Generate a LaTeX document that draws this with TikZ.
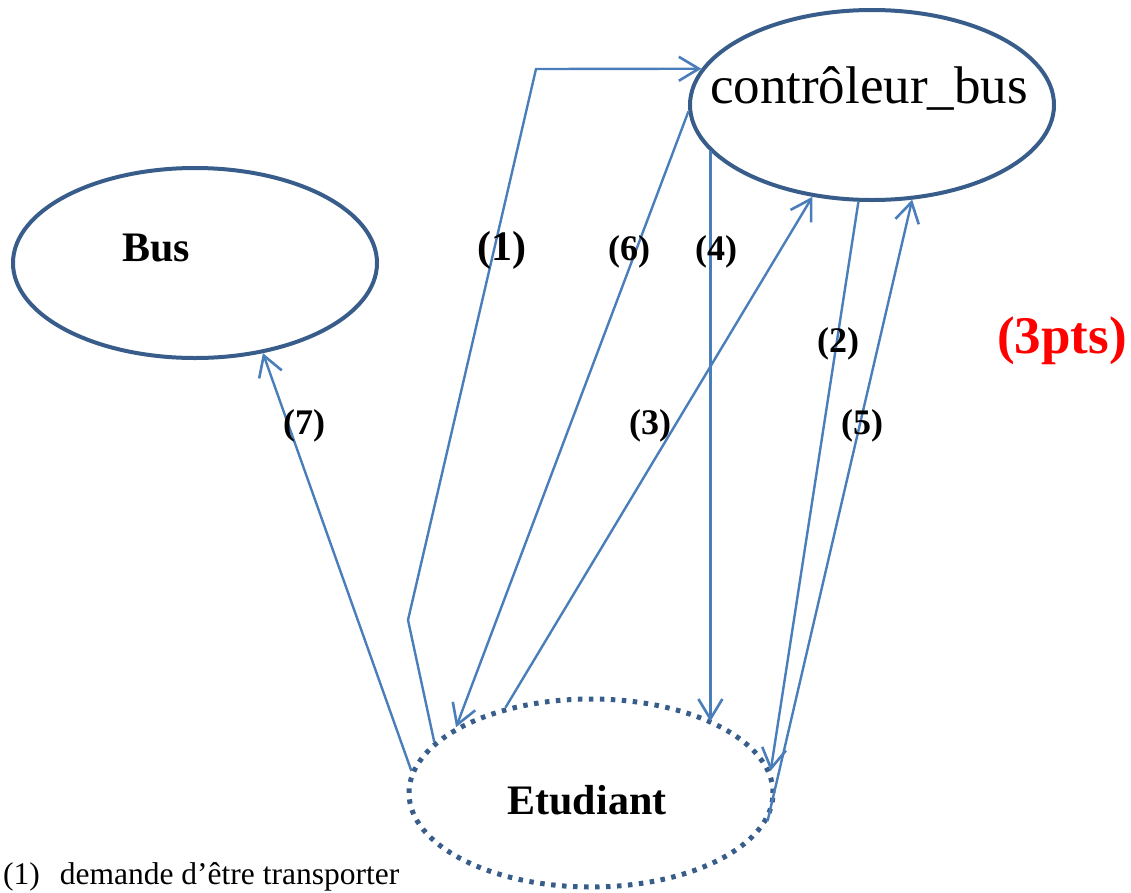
\documentclass[tikz,border=0pt]{standalone}
\usepackage{fontspec}
\setmainfont{Liberation Serif}
\usetikzlibrary{shapes.geometric,arrows.meta}
\definecolor{bord}{RGB}{56,93,138}
\definecolor{fleche}{RGB}{74,126,187}
\begin{document}
\begin{tikzpicture}[x=1pt,y=-1pt,
        acteur/.style={ellipse, draw=bord, line width=4pt, inner sep=0pt, minimum width=364pt, minimum height=190pt},
        msg/.style={draw=fleche, line width=2.4pt, -{Straight Barb[length=20pt,width=24pt,line width=2.6pt]}},
        num/.style={font=\fontsize{36}{40}\selectfont\bfseries}]
        \useasboundingbox (0,0) rectangle (1131,892);
        \node [acteur] (bus) at (195,263) {};
        \node [acteur] (ctrl) at (872,105) {};
        \node [acteur, line width=5pt, dash pattern=on 4.5pt off 6.5pt, minimum height=188pt] (etu) at (591,793) {};
        \node [font=\fontsize{42}{46}\selectfont\bfseries] (busnom) at (156,248) {Bus};
        \node [font=\fontsize{53}{58}\selectfont, anchor=base] (ctrlnom) at (869,103) {contrôleur\_bus};
        \node [font=\fontsize{42}{46}\selectfont\bfseries] (etunom) at (587,800) {Etudiant};
        \coordinate (c1a) at (408,620);
        \coordinate (c1b) at (536,69);
        \draw [msg] (etu.162) -- (c1a) -- (c1b) -- (ctrl.168);
        \draw [msg] (ctrl.182) -- (etu.154);
        \draw [msg] (ctrl.196) -- (ctrl.196 |- etu.30);
        \draw [msg] (etu.135) -- (ctrl.237);
        \draw [msg] (ctrl.262) -- (etu.7);
        \draw [msg] (etu.-9) -- (ctrl.293);
        \draw [msg] (etu.173) -- (bus.-53);
        \node [num, font=\fontsize{42}{46}\selectfont\bfseries] (l1) at (502,250) {(1)};
        \node [num] (l6) at (629,252) {(6)};
        \node [num] (l4) at (716,252) {(4)};
        \node [num] (l2) at (838,344) {(2)};
        \node [num] (l7) at (304,426) {(7)};
        \node [num] (l3) at (650,426) {(3)};
        \node [num] (l5) at (862,426) {(5)};
        \node [font=\fontsize{53}{58}\selectfont\bfseries, text=red] (pts) at (1062,341) {(3pts)};
        \node [font=\fontsize{31.5}{34}\selectfont, anchor=base west, inner sep=0pt] (legende) at (3,884) {(1)\hspace{20pt}demande d’être transporter};
    \end{tikzpicture}
\end{document}
